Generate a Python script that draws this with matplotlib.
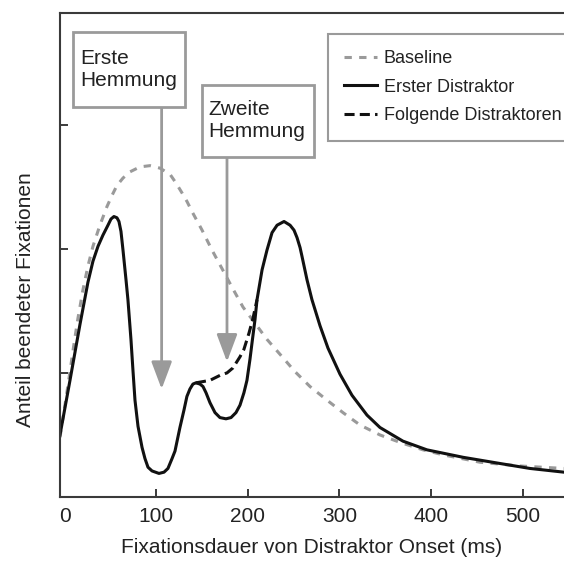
import matplotlib.pyplot as plt
from matplotlib.patches import Rectangle

plt.rcParams['font.family'] = ['Liberation Sans', 'DejaVu Sans']

# Werte (x in ms, y in willkürlichen Einheiten)
baseline_x = [-5.2, 0.2, 5.7, 10.0, 14.4, 19.9, 25.3, 30.8, 38.4, 46.1, 51.6, 57.0, 63.6, 71.2,
              82.1, 93.1, 104.0, 115.0, 121.5, 128.1, 133.6, 139.0, 150.0, 160.8, 171.8, 182.7,
              194.7, 207.8, 220.9, 235.1, 251.5, 267.9, 286.5, 303.9, 322.5, 344.3, 366.2, 391.3,
              413.2, 453.6, 497.2, 545.3]
baseline_y = [0.48, 0.74, 1.01, 1.23, 1.44, 1.67, 1.86, 2.02, 2.19, 2.34, 2.43, 2.51, 2.57, 2.62,
              2.66, 2.67, 2.65, 2.60, 2.53, 2.45, 2.38, 2.30, 2.15, 1.99, 1.84, 1.69,
              1.53, 1.40, 1.27, 1.15, 1.01, 0.89, 0.78, 0.68, 0.58, 0.50, 0.44, 0.38,
              0.34, 0.28, 0.25, 0.23]

erster_x = [-5.2, 5.7, 16.6, 25.3, 30.8, 36.3, 41.7, 47.2, 50.5, 53.7, 57.0, 59.2, 61.4, 63.6,
            66.9, 69.0, 72.3, 74.5, 76.7, 80.0, 84.4, 87.6, 90.9, 95.3, 102.9, 108.4, 112.7,
            117.2, 120.4, 125.8, 130.2, 133.4, 136.7, 140.0, 143.3, 147.7, 151.0, 154.3, 158.6,
            164.1, 169.5, 176.1, 181.6, 187.0, 191.4, 195.7, 199.0, 202.3, 204.5, 207.8, 210.0,
            215.5, 220.9, 226.4, 231.9, 239.5, 246.1, 250.4, 253.7, 257.0, 259.1, 264.6, 270.0,
            278.8, 287.5, 300.6, 313.7, 330.1, 344.3, 369.4, 395.6, 435.0, 475.4, 508.2, 545.3]
erster_y = [0.50, 0.94, 1.39, 1.73, 1.90, 2.02, 2.11, 2.19, 2.24, 2.26, 2.25, 2.22, 2.14, 1.99,
            1.75, 1.59, 1.27, 1.02, 0.78, 0.57, 0.40, 0.31, 0.24, 0.21, 0.19, 0.20, 0.23,
            0.31, 0.37, 0.56, 0.70, 0.81, 0.87, 0.91, 0.92, 0.91, 0.89, 0.84, 0.76,
            0.68, 0.64, 0.63, 0.64, 0.68, 0.74, 0.84, 0.94, 1.11, 1.24, 1.43, 1.59,
            1.83, 1.99, 2.13, 2.19, 2.22, 2.19, 2.15, 2.09, 2.01, 1.94, 1.75, 1.59,
            1.38, 1.20, 0.99, 0.82, 0.66, 0.56, 0.45, 0.38, 0.32, 0.27, 0.23, 0.20]

# nur der Teil, der von "Erster Distraktor" abweicht
folgende_x = [143.3, 151.0, 158.6, 169.5, 177.2, 183.7, 191.4, 195.7, 201.2, 205.6, 210.0]
folgende_y = [0.92, 0.93, 0.94, 0.98, 1.00, 1.04, 1.13, 1.19, 1.32, 1.44, 1.59]

xticks = [0, 100, 200, 300, 400, 500]

grey = '#9a9a9a'
dark = '#3a3a3a'
txt = '#222222'

fig = plt.figure(figsize=(5.64, 5.63), dpi=100)
ax = fig.add_axes([60 / 564, 66 / 563, 504 / 564, 484 / 563])

ax.plot(baseline_x, baseline_y, color=grey, lw=2.2, dashes=(2.4, 2.4), label='Baseline')
ax.plot(erster_x, erster_y, color='#111111', lw=2.2, label='Erster Distraktor')
ax.plot(folgende_x, folgende_y, color='#111111', lw=2.2, dashes=(3.3, 1.7), label='Folgende Distraktoren')

# Hemmungs-Pfeile
arrow = dict(arrowstyle='-|>,head_length=1.2,head_width=0.45', color=grey, lw=2,
             mutation_scale=14, shrinkA=0, shrinkB=0)
ax.annotate('', xy=(105.8, 0.87), xytext=(105.8, 3.15), arrowprops=arrow)
ax.annotate('', xy=(177.2, 1.09), xytext=(177.2, 2.74), arrowprops=arrow)

# Kästen mit Beschriftung
ax.add_patch(Rectangle((9.0, 3.145), 122.3, 0.605, fc='white', ec=grey, lw=2, zorder=3))
ax.add_patch(Rectangle((149.9, 2.742), 122.3, 0.581, fc='white', ec=grey, lw=2, zorder=3))
ax.text(16.6, 3.448, 'Erste\nHemmung', fontsize=15, ha='left', va='center',
        linespacing=1.2, color=txt, zorder=4)
ax.text(156.6, 3.032, 'Zweite\nHemmung', fontsize=15, ha='left', va='center',
        linespacing=1.2, color=txt, zorder=4)

ax.set_xlim(-5.2, 545.3)
ax.set_ylim(0, 3.9)
ax.set_xticks(xticks)
ax.set_xticklabels([str(t) for t in xticks])
ax.set_yticks([1, 2, 3])
ax.set_yticklabels([])
ax.xaxis.get_major_ticks()[0].tick1line.set_visible(False)

ax.tick_params(direction='in', length=5.8, width=1.4, color=dark, labelsize=15,
               labelcolor=txt, pad=7)
for side in ['left', 'bottom', 'top']:
    ax.spines[side].set_color(dark)
    ax.spines[side].set_linewidth(1.5)
ax.spines['right'].set_visible(False)

ax.set_xlabel('Fixationsdauer von Distraktor Onset (ms)', fontsize=15, color=txt, labelpad=9)
ax.set_ylabel('Anteil beendeter Fixationen', fontsize=15, color=txt)
ax.yaxis.set_label_coords(-0.069, 0.407)
ax.yaxis.label.set_verticalalignment('center')

leg = ax.legend(loc='upper left', bbox_to_anchor=((328 - 60) / 504, (497 - 34) / 484),
                fontsize=13, frameon=True, fancybox=False, handlelength=1.8, handletextpad=0.4,
                labelspacing=0.64, borderpad=0.9, borderaxespad=0)
leg.get_frame().set_edgecolor(grey)
leg.get_frame().set_linewidth(1.5)
leg.get_frame().set_alpha(1)
for t in leg.get_texts():
    t.set_color(txt)

plt.savefig('out.png', dpi=100)
